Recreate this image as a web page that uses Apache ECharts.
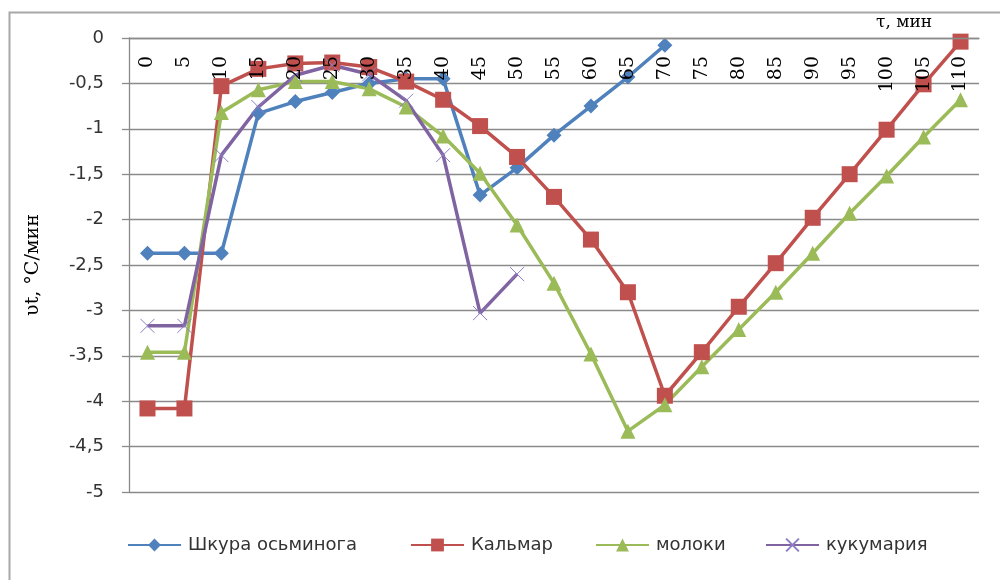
<!DOCTYPE html>
<html>
<head>
<meta charset="utf-8">
<script src="https://cdn.jsdelivr.net/npm/echarts@6.0.0/dist/echarts.min.js"></script>
<style>html,body{margin:0;padding:0;background:#fff;}#c{width:1000px;height:580px;}</style>
</head>
<body>
<div id="c"></div>
<script>
const categories = ['0','5','10','15','20','25','30','35','40','45','50','55','60','65','70','75','80','85','90','95','100','105','110'];
const octopusSkin = [-2.37,-2.37,-2.37,-0.83,-0.7,-0.6,-0.5,-0.45,-0.45,-1.73,-1.43,-1.07,-0.75,-0.43,-0.08];
const squid = [-4.08,-4.08,-0.53,-0.34,-0.28,-0.27,-0.32,-0.48,-0.68,-0.97,-1.31,-1.75,-2.22,-2.8,-3.94,-3.46,-2.96,-2.48,-1.98,-1.5,-1.01,-0.51,-0.04];
const milt = [-3.46,-3.46,-0.82,-0.57,-0.48,-0.48,-0.56,-0.76,-1.08,-1.49,-2.06,-2.7,-3.48,-4.33,-4.04,-3.62,-3.21,-2.8,-2.37,-1.93,-1.52,-1.09,-0.68];
const cucumaria = [-3.17,-3.17,-1.29,-0.76,-0.41,-0.3,-0.4,-0.69,-1.29,-3.03,-2.6];
const seriesNames = ['Шкура осьминога','Кальмар','молоки','кукумария'];
const yTicks = {min: -5, max: 0, interval: 0.5};

const chart = echarts.init(document.getElementById('c'));
const gridCol = '#8a8a8a';
function mk(name, data, color, symbol, size, extra) {
  return Object.assign({
    name: name, type: 'line', data: data, symbol: symbol, symbolSize: size,
    lineStyle: {color: color, width: 3.5},
    itemStyle: {color: color},
    emphasis: {disabled: true}
  }, extra || {});
}
const legendLefts = [122, 405, 590, 760];
const legends = seriesNames.map((n, i) => ({
  left: legendLefts[i], top: 531, itemWidth: 53, itemHeight: 16, itemGap: 0,
  textStyle: {fontFamily: 'DejaVu Sans', fontSize: 18, color: '#333', padding: [0, 0, 0, 2]},
  data: [n]
}));
chart.setOption({
  animation: false,
  grid: {left: 129, right: 21, top: 38, bottom: 88},
  graphic: [
    {type: 'rect', left: 7, top: 10, shape: {width: 1000, height: 600}, style: {fill: 'none', stroke: '#a8a8a8', lineWidth: 2}, z: -1},
    {type: 'text', left: 876, top: 14, style: {text: 'τ, мин', font: '17px "DejaVu Serif"', fill: '#000'}}
  ],
  legend: legends,
  xAxis: {
    type: 'category', data: categories, position: 'top', boundaryGap: true, z: 5,
    axisLine: {onZero: false, lineStyle: {color: gridCol, width: 1.3}},
    axisTick: {inside: true, length: 9, lineStyle: {color: gridCol, width: 1.3}},
    axisLabel: {inside: true, rotate: -90, margin: 18, fontFamily: 'DejaVu Serif', fontSize: 19, color: '#000', interval: 0},
    splitLine: {show: false}
  },
  yAxis: {
    type: 'value', min: yTicks.min, max: yTicks.max, interval: yTicks.interval,
    name: 'υt, °C/мин', nameLocation: 'middle', nameGap: 86,
    nameTextStyle: {fontFamily: 'DejaVu Serif', fontSize: 19, color: '#000'},
    axisLine: {show: true, lineStyle: {color: gridCol, width: 1.3}},
    axisTick: {show: true, length: 7, lineStyle: {color: gridCol, width: 1.3}},
    axisLabel: {fontFamily: 'DejaVu Sans', fontSize: 18, color: '#333', margin: 25,
      formatter: v => String(v).replace('.', ',')},
    splitLine: {lineStyle: {color: gridCol, width: 1.3}}
  },
  series: [
    mk(seriesNames[0], octopusSkin, '#4F81BD', 'diamond', 15),
    mk(seriesNames[1], squid, '#C0504D', 'rect', 16),
    mk(seriesNames[2], milt, '#9BBB59', 'triangle', 15),
    mk(seriesNames[3], cucumaria, '#8064A2', 'path://M0,0L10,10M10,0L0,10', 14,
       {itemStyle: {color: '#8064A2', borderColor: '#8E7CC3', borderWidth: 1}})
  ]
});
</script>
</body>
</html>
